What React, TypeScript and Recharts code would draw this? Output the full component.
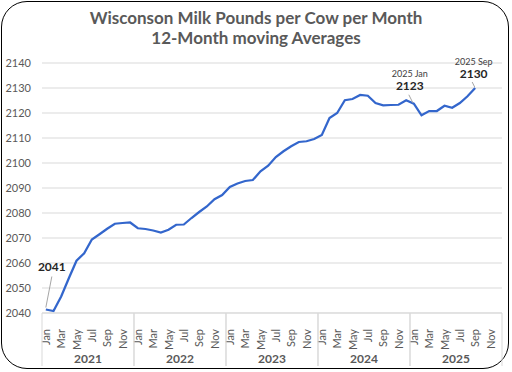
import { LineChart, Line, XAxis, YAxis, CartesianGrid, LabelList } from 'recharts';

const YEARS = ['2021', '2022', '2023', '2024', '2025'];
const MONTHS = ['Jan', 'Feb', 'Mar', 'Apr', 'May', 'Jun', 'Jul', 'Aug', 'Sep', 'Oct', 'Nov', 'Dec'];

// 12-month moving average, lbs per cow per month
const V2021 = [2041.4, 2040.8, 2046.6, 2053.9, 2060.9, 2063.9, 2069.4, 2071.5, 2073.7, 2075.7, 2076.0, 2076.2];
const V2022 = [2073.9, 2073.6, 2073.0, 2072.2, 2073.3, 2075.3, 2075.4, 2078.0, 2080.4, 2082.6, 2085.5, 2087.2];
const V2023 = [2090.4, 2091.8, 2092.8, 2093.2, 2096.7, 2098.9, 2102.4, 2104.7, 2106.7, 2108.4, 2108.7, 2109.6];
const V2024 = [2111.2, 2118.0, 2120.0, 2125.1, 2125.6, 2127.2, 2126.9, 2124.0, 2123.1, 2123.2, 2123.3, 2125.1];
const V2025 = [2123.7, 2119.1, 2120.8, 2120.8, 2122.9, 2122.1, 2124.0, 2126.7, 2130.0, null, null, null];

const Y_TICKS = [2040, 2050, 2060, 2070, 2080, 2090, 2100, 2110, 2120, 2130, 2140];
const SHOWN_MONTHS = ['Jan', 'Mar', 'May', 'Jul', 'Sep', 'Nov'];

const CALLOUTS: Record<number, { top?: string; big: string }> = {
  0: { big: '2041' },
  48: { top: '2025 Jan', big: '2123' },
  56: { top: '2025 Sep', big: '2130' },
};

const ALL = [V2021, V2022, V2023, V2024, V2025];
const data = YEARS.flatMap((yr, yi) =>
  MONTHS.map((m, mi) => ({ key: `${yr}-${m}`, month: m, year: yr, value: ALL[yi][mi] }))
);

const W = 512;
const H = 372;
const M = { top: 63, right: 10, bottom: 0, left: 8 };
const Y_W = 34;
const PLOT_W = W - M.left - M.right - Y_W;
const BAND = PLOT_W / data.length;
const AXIS_Y = 313;
const FONT = 'Lato, "Open Sans", sans-serif';
const GREY = '#595959';

function MonthTick(props: any) {
  const { x, y, payload, index } = props;
  const d = data[index];
  if (!d) return null;
  const els = [];
  if (SHOWN_MONTHS.includes(d.month)) {
    els.push(
      <text key="m" x={0} y={0} transform={`translate(${x + 4},${y + 8}) rotate(-90)`}
        textAnchor="end" fontSize={11} fill={GREY} fontFamily={FONT}>{d.month}</text>
    );
  }
  if (d.month === 'Jan') {
    els.push(<line key="s" x1={x - BAND / 2} x2={x - BAND / 2} y1={AXIS_Y} y2={366} stroke="#d9d9d9" />);
  }
  if (d.month === 'Dec') {
    els.push(<line key="e" x1={x + BAND / 2} x2={x + BAND / 2} y1={AXIS_Y} y2={366} stroke="#d9d9d9" />);
  }
  if (d.month === 'Jun') {
    els.push(
      <text key="y" x={x + BAND / 2} y={363} textAnchor="middle" fontSize={12} fontWeight={700}
        fill={GREY} fontFamily={FONT}>{d.year}</text>
    );
  }
  return <g key={payload?.value}>{els}</g>;
}

function Callout(props: any) {
  const { x, y, index } = props;
  const c = CALLOUTS[index];
  if (!c || x == null || y == null) return null;
  if (index === 0) {
    return (
      <g>
        <line x1={x} y1={y - 2} x2={x + 6} y2={y - 33} stroke="#a6a6a6" />
        <text x={x + 6} y={y - 39} textAnchor="middle" fontSize={12} fontWeight={700} fill="#262626" fontFamily={FONT}>{c.big}</text>
      </g>
    );
  }
  const dx = index === 48 ? -4 : -1.5;
  const lead = index === 48 ? [x - 1, y - 1, x - 5, y - 9] : [x - 0.5, y - 1, x - 3, y - 6];
  const bigY = index === 48 ? y - 13.5 : y - 10;
  return (
    <g>
      <line x1={lead[0]} y1={lead[1]} x2={lead[2]} y2={lead[3]} stroke="#a6a6a6" />
      <text x={x + dx} y={bigY} textAnchor="middle" fontSize={12} fontWeight={700} fill="#262626" fontFamily={FONT}>{c.big}</text>
      <text x={x + dx} y={bigY - 13.5} textAnchor="middle" fontSize={9} fill="#404040" fontFamily={FONT}>{c.top}</text>
    </g>
  );
}

export default function App() {
  return (
    <div style={{ position: 'absolute', left: 0, top: 0, width: W, height: H, background: '#fff', fontFamily: FONT }}>
      <div style={{
        position: 'absolute', left: 1, top: 1, width: W - 4, height: H - 4,
        border: '1.5px solid #000', borderRadius: 26, boxSizing: 'border-box', pointerEvents: 'none',
      }} />
      <div style={{
        position: 'absolute', top: 8, left: 0, width: W, textAlign: 'center', color: GREY,
        fontWeight: 700, fontSize: 17, lineHeight: '20px',
      }}>
        <div>Wisconson Milk Pounds per Cow per Month</div>
        <div>12-Month moving Averages</div>
      </div>
      <LineChart width={W} height={H} data={data} margin={M}>
        <CartesianGrid vertical={false} stroke="#d9d9d9" />
        <XAxis
          dataKey="key"
          interval={0}
          height={H - AXIS_Y}
          tick={<MonthTick />}
          tickLine={false}
          axisLine={{ stroke: '#d9d9d9' }}
          padding={{ left: BAND / 2, right: BAND / 2 }}
        />
        <YAxis
          width={Y_W}
          domain={[2040, 2140]}
          ticks={Y_TICKS}
          interval={0}
          axisLine={false}
          tickLine={false}
          tickMargin={5}
          tick={{ fill: GREY, fontSize: 11, fontFamily: FONT }}
        />
        <Line
          type="linear"
          dataKey="value"
          stroke="#3366cc"
          strokeWidth={2.25}
          dot={false}
          isAnimationActive={false}
          connectNulls={false}
        >
          <LabelList dataKey="value" content={<Callout />} />
        </Line>
      </LineChart>
    </div>
  );
}
